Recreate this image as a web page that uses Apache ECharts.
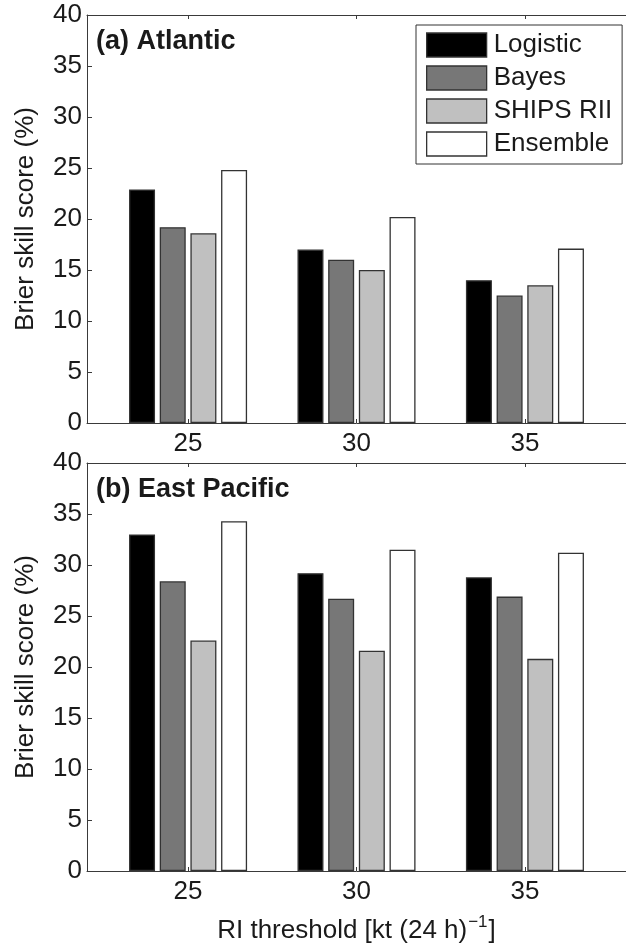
<!DOCTYPE html>
<html>
<head>
<meta charset="utf-8">
<style>
html,body{margin:0;padding:0;background:#fff;}
#chart{width:626px;height:946px;}
</style>
<script src="https://cdn.jsdelivr.net/npm/echarts@6/dist/echarts.min.js"></script>
</head>
<body>
<div id="chart"></div>
<script>
// ---- data ----
var thresholds = [25, 30, 35];
var yTicks = [0, 5, 10, 15, 20, 25, 30, 35, 40];
var seriesNames = ['Logistic', 'Bayes', 'SHIPS RII', 'Ensemble'];
var panelTitles = ['(a) Atlantic', '(b) East Pacific'];

var atlLogistic = [22.9, 17.0, 14.0];
var atlBayes    = [19.2, 16.0, 12.5];
var atlShips    = [18.6, 15.0, 13.5];
var atlEnsemble = [24.8, 20.2, 17.1];

var epLogistic = [33.0, 29.2, 28.8];
var epBayes    = [28.4, 26.7, 26.9];
var epShips    = [22.6, 21.6, 20.8];
var epEnsemble = [34.3, 31.5, 31.2];

// ---- styles ----
var FONT = '"Liberation Sans", Arial, Helvetica, sans-serif';
var TXT = '#1a1a1a';
var AXC = '#3a3a3a';
var fills = ['#000000', '#777777', '#c0c0c0', '#ffffff'];

function pairs(vals) {
  return thresholds.map(function (t, i) { return [t, vals[i]]; });
}

var grids = [
  { left: 87, top: 15, width: 547, height: 408 },
  { left: 87, top: 463, width: 547, height: 408 }
];

var xAxes = [];
var yAxes = [];
[0, 1].forEach(function (g) {
  // bottom x axis
  xAxes.push({
    type: 'value', gridIndex: g, position: 'bottom', min: 22, max: 38,
    splitLine: { show: false },
    axisLine: { show: true, onZero: false, lineStyle: { color: AXC, width: 1 } },
    axisTick: { show: true, inside: true, length: 4, customValues: thresholds, lineStyle: { color: AXC } },
    axisLabel: { show: true, customValues: thresholds, margin: 8, fontSize: 26, fontFamily: FONT, color: TXT },
    name: g === 1 ? '{n|RI threshold [kt (24 h)}{s|\u22121}{n|]}' : '',
    nameLocation: 'middle', nameGap: 43,
    nameTextStyle: {
      fontFamily: FONT, color: TXT, fontSize: 26,
      rich: {
        n: { fontSize: 26, fontFamily: FONT, color: TXT, verticalAlign: 'bottom', lineHeight: 30 },
        s: { fontSize: 17, fontFamily: FONT, color: TXT, verticalAlign: 'top', padding: [0, 1, 14, 1], lineHeight: 30 }
      }
    }
  });
  // top x axis (box edge with inward ticks)
  xAxes.push({
    type: 'value', gridIndex: g, position: 'top', min: 22, max: 38,
    splitLine: { show: false },
    axisLine: { show: true, onZero: false, lineStyle: { color: AXC, width: 1 } },
    axisTick: { show: true, inside: true, length: 4, customValues: thresholds, lineStyle: { color: AXC } },
    axisLabel: { show: false }
  });
  yAxes.push({
    type: 'value', gridIndex: g, min: 0, max: 40, interval: 5,
    splitLine: { show: false },
    axisLine: { show: true, lineStyle: { color: AXC, width: 1 } },
    axisTick: { show: true, inside: true, length: 5, lineStyle: { color: AXC } },
    axisLabel: { margin: 5, fontSize: 26, fontFamily: FONT, color: TXT },
    name: 'Brier skill score (%)', nameLocation: 'middle', nameGap: 48, nameRotate: 90,
    nameTextStyle: { fontSize: 26, fontFamily: FONT, color: TXT }
  });
});

var panelData = [
  [atlLogistic, atlBayes, atlShips, atlEnsemble],
  [epLogistic, epBayes, epShips, epEnsemble]
];

var series = [];
[0, 1].forEach(function (g) {
  panelData[g].forEach(function (vals, k) {
    series.push({
      type: 'bar', name: seriesNames[k],
      xAxisIndex: g * 2, yAxisIndex: g,
      data: pairs(vals),
      barWidth: 26, barGap: '18%',
      itemStyle: { color: fills[k], borderColor: '#333333', borderWidth: 1.3 },
      emphasis: { disabled: true },
      animation: false
    });
  });
});

var chart = echarts.init(document.getElementById('chart'), null, { renderer: 'canvas' });
chart.setOption({
  animation: false,
  backgroundColor: '#ffffff',
  grid: grids,
  xAxis: xAxes,
  yAxis: yAxes,
  title: [
    { text: panelTitles[0], left: 96, top: 28, padding: 0,
      textStyle: { fontSize: 27, fontWeight: 'bold', fontFamily: FONT, color: TXT } },
    { text: panelTitles[1], left: 96, top: 476, padding: 0,
      textStyle: { fontSize: 27, fontWeight: 'bold', fontFamily: FONT, color: TXT } }
  ],
  legend: {
    data: seriesNames,
    icon: 'rect',
    orient: 'vertical', left: 416, top: 25,
    padding: [7, 10, 7, 10],
    itemWidth: 60, itemHeight: 24, itemGap: 7,
    backgroundColor: '#ffffff',
    borderColor: '#333333', borderWidth: 1,
    selectedMode: false,
    itemStyle: { borderColor: '#333333', borderWidth: 1.3 },
    textStyle: { fontSize: 26, fontFamily: FONT, color: TXT, lineHeight: 26, padding: [0, 0, 0, 2] }
  },
  series: series
});
</script>
</body>
</html>
